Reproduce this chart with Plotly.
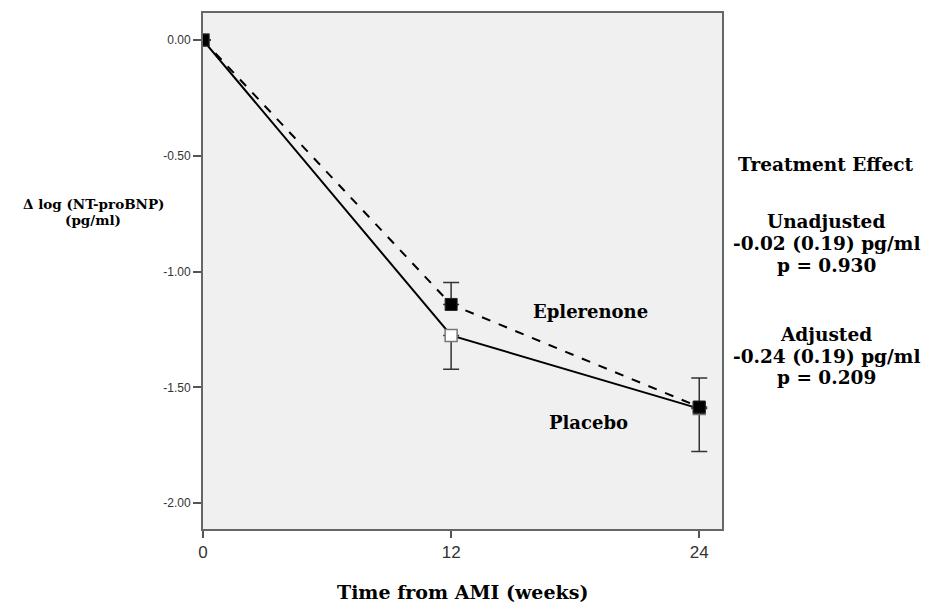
import plotly.graph_objects as go

weeks = [0, 12, 24]
tick_vals_x = [0, 12, 24]
tick_vals_y = [0.0, -0.5, -1.0, -1.5, -2.0]
tick_text_y = ["0.00", "-0.50", "-1.00", "-1.50", "-2.00"]

eplerenone = [0.0, -1.142, -1.585]
eplerenone_err_up = [None, 0.095, 0.125]
placebo = [0.0, -1.276, -1.592]
placebo_err_down = [None, 0.146, 0.185]

W, H = 927, 605
L, R, T, B = 203, 205, 13, 76
pw, ph = W - L - R, H - T - B

def px(x):
    return (x - L) / pw

def py(y):
    return (H - B - y) / ph

SERIF = "DejaVu Serif, serif"
SANS = "Liberation Sans, Arial, sans-serif"

fig = go.Figure()

fig.add_trace(go.Scatter(
    x=weeks, y=placebo, mode="lines+markers", name="Placebo",
    line=dict(color="black", width=2),
    marker=dict(symbol="square", size=12, color=["black", "white", "#222"],
                line=dict(color="#777", width=1.5)),
    error_y=dict(type="data", symmetric=False, array=[0, 0, 0],
                 arrayminus=placebo_err_down, color="#333", thickness=1.5, width=8),
))
fig.add_trace(go.Scatter(
    x=weeks, y=eplerenone, mode="lines+markers", name="Eplerenone",
    line=dict(color="black", width=2, dash="dash"),
    marker=dict(symbol="square", size=12, color="black",
                line=dict(color="#222", width=1)),
    error_y=dict(type="data", symmetric=False, array=eplerenone_err_up,
                 arrayminus=[0, 0, 0], color="#333", thickness=1.5, width=8),
))

ann = []
def add(text, xp, yp, size, font=SERIF, color="black"):
    ann.append(dict(text="<b>%s</b>" % text, x=px(xp), y=py(yp), xref="paper", yref="paper",
                    xanchor="center", yanchor="middle", showarrow=False, borderpad=0,
                    font=dict(family=font, size=size, color=color)))

add("Eplerenone", 590, 312, 18)
add("Placebo", 588, 422, 18)
add("Δ log (NT-proBNP)", 93, 204, 13.5)
add("(pg/ml)", 93, 220, 13.5)
add("Time from AMI (weeks)", 462, 592, 19)
add("Treatment Effect", 826, 165, 18.5)
add("Unadjusted", 826, 221, 18.5)
add("-0.02 (0.19) pg/ml", 826, 243, 18.5)
add("p = 0.930", 826, 265, 18.5)
add("Adjusted", 826, 334, 18.5)
add("-0.24 (0.19) pg/ml", 826, 356, 18.5)
add("p = 0.209", 826, 378, 18.5)

fig.update_layout(
    width=W, height=H,
    margin=dict(l=L, r=R, t=T, b=B),
    paper_bgcolor="white", plot_bgcolor="#f0f0f0",
    showlegend=False,
    annotations=ann,
    xaxis=dict(range=[0, 25.1], tickvals=tick_vals_x, ticktext=[str(v) for v in tick_vals_x],
               showgrid=False, zeroline=False, showline=True, mirror=True,
               linecolor="#666", linewidth=2, ticks="outside", ticklen=7, tickwidth=2,
               tickcolor="#555", tickfont=dict(family=SANS, size=17, color="#333")),
    yaxis=dict(range=[-2.112, 0.117], tickvals=tick_vals_y, ticktext=tick_text_y,
               showgrid=False, zeroline=False, showline=True, mirror=True,
               linecolor="#666", linewidth=2, ticks="outside", ticklen=8, tickwidth=2,
               tickcolor="#555", tickfont=dict(family=SANS, size=12, color="#333")),
)

fig.write_html("out.html")
